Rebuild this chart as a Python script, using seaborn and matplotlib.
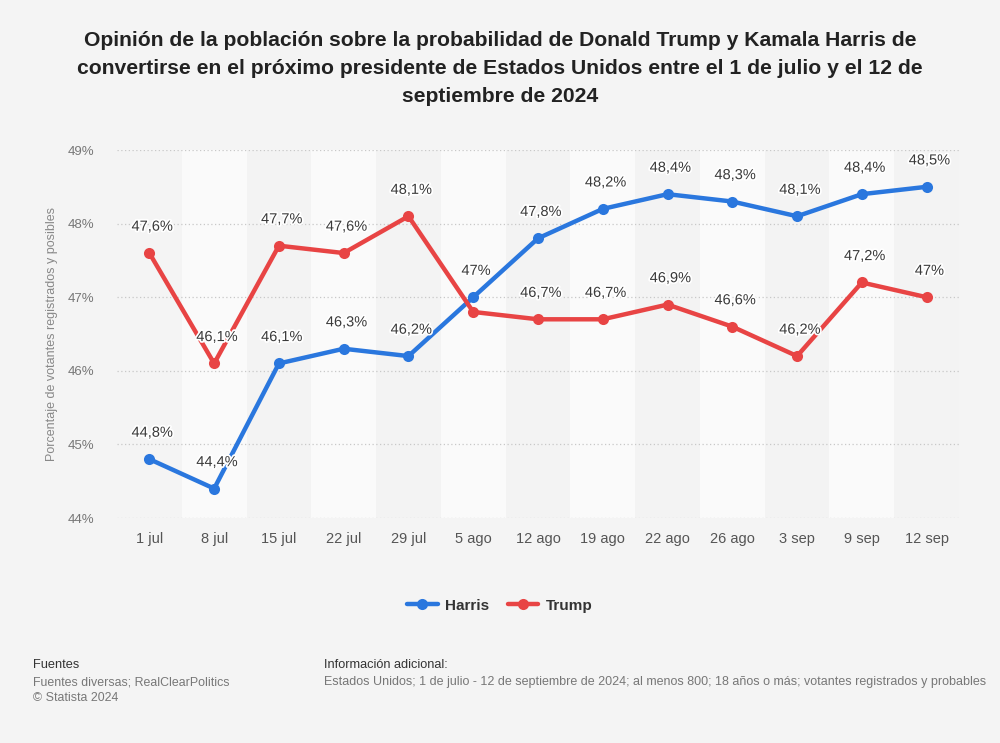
# Opinión sobre probabilidad de Trump vs Harris - recreación estilo Statista
import pandas as pd
import seaborn as sns
import matplotlib.pyplot as plt
import matplotlib.patheffects as pe

fechas = ['1 jul', '8 jul', '15 jul', '22 jul', '29 jul', '5 ago', '12 ago',
          '19 ago', '22 ago', '26 ago', '3 sep', '9 sep', '12 sep']
harris = [44.8, 44.4, 46.1, 46.3, 46.2, 47.0, 47.8, 48.2, 48.4, 48.3, 48.1, 48.4, 48.5]
trump = [47.6, 46.1, 47.7, 47.6, 48.1, 46.8, 46.7, 46.7, 46.9, 46.6, 46.2, 47.2, 47.0]
# etiquetas ocultas (solapadas en el original)
trump_sin_etiqueta = ['5 ago']
yticks = [44, 45, 46, 47, 48, 49]

colores = {'Harris': '#2a77de', 'Trump': '#e84444'}

df = pd.DataFrame({
    'pos': list(range(len(fechas))) * 2,
    'fecha': fechas * 2,
    'valor': harris + trump,
    'candidato': ['Harris'] * len(fechas) + ['Trump'] * len(fechas),
})

sns.set_style('white')
plt.rcParams['font.family'] = ['Liberation Sans', 'DejaVu Sans']

fig = plt.figure(figsize=(10, 7.43), dpi=100, facecolor='#f4f4f4')
ax = fig.add_axes([0.117, 0.3028, 0.842, 0.4953])
ax.set_facecolor('#f4f4f4')

# bandas alternas
for i in range(len(fechas)):
    color = '#fafafa' if i % 2 == 1 else '#f3f3f3'
    if i == 0:
        color = '#f4f4f4'
    ax.axvspan(i - 0.5, i + 0.5, color=color, zorder=0, lw=0)

for y in yticks:
    ax.axhline(y, color='#c8c8c8', lw=0.9, ls=(0, (1, 2)), zorder=1)

sns.lineplot(data=df, x='pos', y='valor', hue='candidato', palette=colores,
             marker='o', markersize=8, markeredgewidth=0, linewidth=3.2,
             ax=ax, zorder=3)

def fmt(v):
    return f"{v:g}".replace('.', ',') + '%'

for nombre, serie in [('Harris', harris), ('Trump', trump)]:
    for i, v in enumerate(serie):
        if nombre == 'Trump' and fechas[i] in trump_sin_etiqueta:
            continue
        ax.annotate(fmt(v), (i, v), xytext=(2, 19), textcoords='offset points',
                    ha='center', va='center', fontsize=10.5, color='#3a3a3a',
                    zorder=5,
                    path_effects=[pe.withStroke(linewidth=2.5, foreground='white')])

ax.set_xlim(-0.5, len(fechas) - 0.5)
ax.set_ylim(44, 49)
ax.set_xticks(range(len(fechas)))
ax.set_xticklabels(fechas, fontsize=10.5, color='#555555')
ax.set_yticks(yticks)
ax.set_yticklabels([f'{y}%' for y in yticks], fontsize=9.5, color='#777777')
ax.tick_params(axis='x', length=0, pad=10)
ax.tick_params(axis='y', length=0, pad=16)
ax.set_xlabel('')
ax.set_ylabel('Porcentaje de votantes registrados y posibles', fontsize=9,
              color='#888888', labelpad=7)
sns.despine(ax=ax, left=True, bottom=True)

handles, labels = ax.get_legend_handles_labels()
leg = ax.legend(handles, labels, loc='center', bbox_to_anchor=(0.5, 0.185),
                bbox_transform=fig.transFigure, ncol=2, frameon=False,
                handlelength=2.0, columnspacing=1.2, handletextpad=0.5,
                prop={'weight': 'bold', 'size': 11})
for t in leg.get_texts():
    t.set_color('#333333')

fig.text(0.5, 0.958, 'Opinión de la población sobre la probabilidad de Donald Trump y Kamala Harris de\n'
         'convertirse en el próximo presidente de Estados Unidos entre el 1 de julio y el 12 de\n'
         'septiembre de 2024', ha='center', va='top', fontsize=15.2, fontweight='bold',
         color='#222222', linespacing=1.6)

fig.text(0.033, 0.105, 'Fuentes', fontsize=9.2, color='#333333', va='center')
fig.text(0.033, 0.082, 'Fuentes diversas; RealClearPolitics', fontsize=8.9, color='#777777', va='center')
fig.text(0.033, 0.061, '© Statista 2024', fontsize=8.9, color='#777777', va='center')
fig.text(0.324, 0.105, 'Información adicional:', fontsize=9.2, color='#333333', va='center')
fig.text(0.324, 0.082, 'Estados Unidos; 1 de julio - 12 de septiembre de 2024; al menos 800; '
         '18 años o más; votantes registrados y probables', fontsize=9.0, color='#777777', va='center')

fig.savefig('out.png', dpi=100, facecolor=fig.get_facecolor())
